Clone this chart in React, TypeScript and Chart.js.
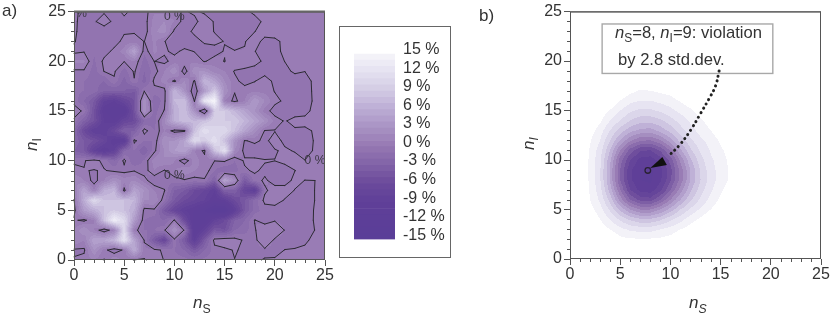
import React, { useEffect, useRef } from "react";
import { Chart, registerables } from "chart.js";

Chart.register(...registerables);

const FONT = '"Liberation Sans", Arial, sans-serif';
const INK = "#333333";

const axisTicks = [0, 5, 10, 15, 20, 25];
const legendTicks = [15, 12, 9, 6, 3, 0, -3, -6, -9, -12, -15];
const legendBands = Array.from({ length: 30 }, (_, i) => -15 + i);

const colourStops: [number, number[]][] = [
  [-15, [90, 62, 152]],
  [-9, [95, 63, 152]],
  [-6, [107, 74, 155]],
  [-3, [128, 98, 167]],
  [0, [150, 120, 178]],
  [3, [168, 146, 195]],
  [6, [187, 172, 212]],
  [9, [210, 202, 227]],
  [12, [228, 225, 240]],
  [15, [246, 245, 250]],
];

// violation in %, rows from n_I = 25 down to 0, columns n_S = 0..25
const violationRows = [
  [.3,-.4,-.6,-.1,-.5,.3,-.4,-.5,.8,.6,.2,-.1,.2,-.2,-.6,-.7,-.6,-.3,.3,.6,.6,.6,.6,.7,.7,.7],
  [.2,-.4,-.1,.4,-.2,-.4,-.5,-.6,1.5,2,1,-.6,-.3,.6,-.1,-.8,-.9,-.8,-.5,.3,.6,.6,.7,.7,.7,.7],
  [.2,-.5,-.8,-.5,-.7,-.15,-.1,-.8,1.8,2.5,-.3,-.6,.3,.5,-.05,-.8,-1,-.9,-.02,.4,.6,.6,.7,.7,.7,.7],
  [.1,-.6,-.8,-.6,-.5,.35,.4,-.02,1.2,.05,-.6,-.8,-.5,.2,.3,-.05,-.9,-.05,.4,-.3,-.3,.3,.6,.7,.7,.7],
  [-.3,-.1,-.8,-.5,.3,1.5,5,-.8,1.3,.2,-.3,.3,-.05,-.7,-.5,.1,.1,.05,.02,-.3,-.4,.3,.6,.7,.7,.7],
  [1.2,1.2,-1.2,.3,.8,.05,1,-1.5,.02,-.3,.5,1,.7,-.1,.5,-.05,1,1,.5,-.3,-.5,.02,.5,.6,.7,.7],
  [-.2,-.2,-1.5,.05,.2,-1.5,.2,-2,-.5,1,3,-1,3,3,1.5,1,-.1,-.4,-.6,-.5,-.8,-.3,.2,.02,.6,.7],
  [-1,-1,-1.5,-2,-.2,-2.5,-.1,-2.5,.3,1.5,-.3,2,-.2,7,5,2,.3,-.4,-.05,.6,-.3,-.6,-.6,-.5,.3,.7],
  [-.8,-1,-1.5,-3,-3,-3,-4,-.02,-.4,-.6,7,3,-1.5,4,9,3,.1,.5,.8,.6,-.05,-.4,-.6,-.6,.3,.7],
  [-.3,-2,-4,-8,-9,-7,-5,3,-2,-.5,7,8,-.1,13,15,1,-.4,1,4,2,.3,-.2,-.5,-.5,.2,.7],
  [.5,-.2,-5,-10,-11,-11,-5,3,-1.5,.1,6,8,3,-3,9,9,7,5,3,.5,-.5,-.6,-.6,-.3,.3,.7],
  [-.2,-3,-5,-9,-10,-7,-6,-2,-1.5,2,6,8,7,8,10,9,9,7,5,3,.5,-.1,.4,.3,.5,.7],
  [-2,-6,-9,-9,-6,-3,-3,.5,-1,1,-.5,-.3,8,12,10,11,8,5,2.5,-.1,-.05,-.4,-.2,-.2,.1,.7],
  [-2,-4,-5,-7,-10,-10,.3,-1,-1,3,3,5,11,9,12,8,3,-.1,.3,-.3,.5,-.3,-.6,-.5,.1,.7],
  [-3,-4,-8,-10,-8,-2,-1,-3,-.3,2,4,5,1,-.3,8,12,2,-.5,-.8,-.8,-.1,.2,-.1,-.3,.1,.7],
  [-.3,-.1,.5,-.4,-2,.3,-2,-.8,1.5,2,1,-1,1.5,.5,.03,.2,-1,.2,.3,.1,.02,.3,.5,.02,.3,.7],
  [.5,.05,-.05,.1,-.3,-.4,-.1,-.6,1,-.1,.8,2,1,.8,-1,-2,-1.5,-.2,.2,-.3,-.8,-.5,-.02,.5,.5,.7],
  [2,1,-.5,1,3,1.5,2,.5,-1,-.8,-.5,-.2,-.5,-.2,-3,5,2,-4,-.5,.2,-.5,-.5,.3,-.02,0,.7],
  [1,5,1,6,7,-.5,5,3,1,.1,-3,-4,-6,-7,-9,-3,-3,-7,-9,-.2,.5,.5,-.05,-.5,.02,.7],
  [-.1,6,11,8,8,8,7,2,2,-.8,-4,-6,-7,-8,-10,-9,-6,-4,-1.5,.3,.5,-.1,-.5,-.6,.02,.7],
  [-.5,4,6,8,9,8,6,-.5,-.3,-4,-7,-9,-10,-12,-14,-14,-9,-4,-1.5,-.5,-.5,-.5,-.5,-.6,.1,.7],
  [.2,-.3,1,8,14,11,4,-1,-1.5,-2,.15,-6,-11,-11,-8,-6,-3,-2,.05,-.5,-.1,-.4,-.5,-.5,.1,.7],
  [1,3,1,-1,1,11,.5,-1,-1,-.2,3,-.2,-11,-8,-4,-5,-2,-1.5,-.1,.8,1,-.05,-.5,-.5,.02,.7],
  [2,1,5,5,7,12,5,-.1,-4,-7,-.4,-4,-9,-4,.5,1,.5,-.2,-.3,1,-.2,-.4,-.5,-.2,.3,.7],
  [-.2,-.2,3,.5,-1,.3,6,.3,.3,-.2,-1,-2,-4,-2,-.5,-.3,.1,-.2,-.3,-.2,-.3,.02,.1,.2,.4,.7],
  [.1,.4,1,-.05,2,.5,-.05,-.05,.2,-.02,-.5,-.6,-1,-.7,-.5,-.3,-.02,-.3,-.1,.05,.1,.3,.5,.6,.7,.7],
];

// density levels, rows from n_I = 17 down to 2, columns n_S = 0..16
const densityTopRow = 17;
const densityRows = [
  [0,0,0,0,0,0,.7,1.1,1,.8,.6,0,0,0,0,0,0],
  [0,0,0,0,0,1,1.7,2,2,1.7,1.4,.9,.3,0,0,0,0],
  [0,0,0,.3,1.1,2,2.8,3.2,3.2,2.8,2.3,1.7,1.2,.5,0,0,0],
  [0,0,0,.8,2,3,4,4.6,4.6,4.2,3.4,2.6,1.8,1.2,.5,0,0],
  [0,0,.5,1.5,3,4.4,5.6,6.2,6.4,5.6,4.6,3.4,2.4,1.6,1,.3,0],
  [0,0,.9,2,4,6,7.8,8.8,9,8,6.4,4.6,3.2,2.2,1.6,.8,0],
  [0,0,1.1,2.5,5,8,10.4,11.8,12,10.8,8.8,6.2,4.2,2.8,1.9,1.2,.5],
  [0,0,1.2,2.8,5.8,9.5,12,13.4,13.6,12.6,10.6,7.8,5.2,3.4,2.2,1.5,.7],
  [0,0,1.2,2.9,6.2,10,12.8,14,14.2,13.4,11.4,8.6,6,3.9,2.4,1.6,.8],
  [0,0,1.2,2.9,6.2,10,12.8,14,14.2,13.2,11.2,8.6,6,4,2.5,1.6,.8],
  [0,0,1.1,2.6,5.5,9,12,13.4,13.6,12.4,10,7.6,5.2,3.5,2.2,1.2,.4],
  [0,0,1,2.2,4.4,7.4,10,11.4,11.6,10,8,6,4.2,2.8,1.7,.8,0],
  [0,0,.6,1.6,3.2,5.2,7,8,8,7,5.6,4,2.8,1.8,1,.3,0],
  [0,0,0,1,2,3.2,4.2,4.8,4.8,4.2,3.2,2.4,1.4,.8,0,0,0],
  [0,0,0,.4,1,1.7,2.2,2.4,2.4,2,1.6,1,.5,0,0,0,0],
  [0,0,0,0,0,.7,.9,.9,.9,.8,.6,0,0,0,0,0,0],
];

const contourLabels = [
  { x: 0.25, y: 24.75, text: "0 %" },
  { x: 10, y: 24.45, text: "0 %" },
  { x: 24, y: 10, text: "0 %" },
  { x: 10, y: 8.5, text: "0 %" },
];

const arrowCurve = [
  { x: 14.85, y: 19 }, { x: 14.5, y: 17.5 }, { x: 13.85, y: 16.2 }, { x: 13, y: 14.7 },
  { x: 12, y: 13 }, { x: 10.9, y: 11.5 }, { x: 9.7, y: 10.3 },
];
const arrowHead = [{ x: 8, y: 9.2 }, { x: 9.2, y: 10.3 }, { x: 9.65, y: 9.5 }];
const violationPoint = [{ x: 7.75, y: 8.95 }];
const noteBox = { x0: 3.2, x1: 20.2, y0: 18.75, y1: 23.75 };

function colourAt(v: number): number[] {
  const c = Math.max(-15, Math.min(15, v));
  for (let i = 1; i < colourStops.length; i++) {
    const [v0, c0] = colourStops[i - 1];
    const [v1, c1] = colourStops[i];
    if (c <= v1) {
      const t = (c - v0) / (v1 - v0);
      return c0.map((a, k) => Math.round(a + (c1[k] - a) * t));
    }
  }
  return colourStops[colourStops.length - 1][1];
}
const css = (c: number[]) => `rgb(${c[0]},${c[1]},${c[2]})`;

const violationAt = (i: number, j: number) => violationRows[25 - j][i];
const densityAt = (i: number, j: number) => {
  const row = densityRows[densityTopRow - j];
  return row && i < row.length ? row[i] : 0;
};

function bilinear(get: (i: number, j: number) => number, x: number, y: number) {
  const i = Math.max(0, Math.min(24, Math.floor(x)));
  const j = Math.max(0, Math.min(24, Math.floor(y)));
  const u = x - i;
  const w = y - j;
  return (
    get(i, j) * (1 - u) * (1 - w) +
    get(i + 1, j) * u * (1 - w) +
    get(i + 1, j + 1) * u * w +
    get(i, j + 1) * (1 - u) * w
  );
}

function paintField(chart: any, get: (i: number, j: number) => number, toColour: (v: number) => number[] | null) {
  const { left, right, top, bottom } = chart.chartArea;
  const x0 = Math.round(left);
  const y0 = Math.round(top);
  const w = Math.round(right) - x0;
  const h = Math.round(bottom) - y0;
  const img = chart.ctx.createImageData(w, h);
  for (let py = 0; py < h; py++) {
    const vy = chart.scales.y.getValueForPixel(y0 + py + 0.5);
    for (let px = 0; px < w; px++) {
      const vx = chart.scales.x.getValueForPixel(x0 + px + 0.5);
      const c = toColour(bilinear(get, vx, vy)) || [255, 255, 255];
      const o = (py * w + px) * 4;
      img.data[o] = c[0];
      img.data[o + 1] = c[1];
      img.data[o + 2] = c[2];
      img.data[o + 3] = 255;
    }
  }
  chart.ctx.putImageData(img, x0, y0);
}

function drawZeroContour(chart: any) {
  const { ctx, scales } = chart;
  const seg = (a: number[], b: number[]) => {
    ctx.moveTo(scales.x.getPixelForValue(a[0]), scales.y.getPixelForValue(a[1]));
    ctx.lineTo(scales.x.getPixelForValue(b[0]), scales.y.getPixelForValue(b[1]));
  };
  ctx.save();
  ctx.strokeStyle = "#2c2a33";
  ctx.lineWidth = 1;
  ctx.lineJoin = "round";
  ctx.lineCap = "round";
  ctx.beginPath();
  for (let i = 0; i < 25; i++) {
    for (let j = 0; j < 25; j++) {
      const a = violationAt(i, j);
      const b = violationAt(i + 1, j);
      const c = violationAt(i + 1, j + 1);
      const d = violationAt(i, j + 1);
      const sa = a >= 0, sb = b >= 0, sc = c >= 0, sd = d >= 0;
      const bottomPt = sa !== sb ? [i + a / (a - b), j] : null;
      const rightPt = sb !== sc ? [i + 1, j + b / (b - c)] : null;
      const topPt = sd !== sc ? [i + d / (d - c), j + 1] : null;
      const leftPt = sa !== sd ? [i, j + a / (a - d)] : null;
      const pts = [bottomPt, rightPt, topPt, leftPt].filter(Boolean) as number[][];
      if (pts.length === 2) seg(pts[0], pts[1]);
      if (pts.length === 4) {
        const centre = (a + b + c + d) / 4 >= 0;
        if (centre === sa) {
          seg(bottomPt!, rightPt!);
          seg(topPt!, leftPt!);
        } else {
          seg(leftPt!, bottomPt!);
          seg(rightPt!, topPt!);
        }
      }
    }
  }
  ctx.stroke();
  const { left, top, width, height } = chart.chartArea;
  ctx.beginPath();
  ctx.rect(left, top, width, height);
  ctx.clip();
  ctx.fillStyle = "#3a3742";
  ctx.font = `12px ${FONT}`;
  ctx.textAlign = "center";
  ctx.textBaseline = "middle";
  for (const l of contourLabels) {
    ctx.fillText(l.text, scales.x.getPixelForValue(l.x), scales.y.getPixelForValue(l.y));
  }
  ctx.restore();
}

function drawFrameAndMinorTicks(chart: any, topWidth: number) {
  const { ctx, scales, chartArea: a } = chart;
  ctx.save();
  ctx.strokeStyle = "#555555";
  ctx.lineWidth = 1;
  ctx.beginPath();
  for (let v = 0; v <= 25; v++) {
    if (v % 5 === 0) continue;
    const px = Math.round(scales.x.getPixelForValue(v)) + 0.5;
    ctx.moveTo(px, a.bottom);
    ctx.lineTo(px, a.bottom + 3);
    const py = Math.round(scales.y.getPixelForValue(v)) + 0.5;
    ctx.moveTo(a.left, py);
    ctx.lineTo(a.left - 3, py);
  }
  ctx.stroke();
  ctx.strokeRect(a.left + 0.5, a.top + 0.5, a.width - 1, a.height - 1);
  ctx.strokeStyle = "#666666";
  ctx.lineWidth = topWidth;
  ctx.beginPath();
  ctx.moveTo(a.left, a.top);
  ctx.lineTo(a.right, a.top);
  ctx.stroke();
  ctx.restore();
}

type Run = { text: string; italic?: boolean; sub?: boolean };

function drawRuns(ctx: any, runs: Run[], x: number, y: number, size: number, subDrop = 5) {
  let cx = x;
  for (const r of runs) {
    const s = r.sub ? size * 0.72 : size;
    ctx.font = `${r.italic ? "italic " : ""}${s}px ${FONT}`;
    ctx.fillText(r.text, cx, r.sub ? y + subDrop : y);
    cx += ctx.measureText(r.text).width;
  }
}

function axisLabels(ctx: any, xRuns: Run[], xAt: number[], yRuns: Run[], yAt: number[]) {
  ctx.save();
  ctx.fillStyle = INK;
  ctx.textAlign = "left";
  ctx.textBaseline = "alphabetic";
  drawRuns(ctx, xRuns, xAt[0], xAt[1], 17);
  ctx.translate(yAt[0], yAt[1]);
  ctx.rotate(-Math.PI / 2);
  drawRuns(ctx, yRuns, 0, 0, 17, 4);
  ctx.restore();
}

function squareScales(yWidth: number, xHeight: number) {
  const common = {
    type: "linear",
    min: 0,
    max: 25,
    border: { display: false },
    grid: {
      drawOnChartArea: false,
      drawTicks: true,
      tickLength: 6,
      tickWidth: 1,
      tickColor: (c: any) => (axisTicks.includes(c.tick?.value) ? "#555555" : "rgba(0,0,0,0)"),
    },
  };
  const ticks = {
    stepSize: 1,
    autoSkip: false,
    maxRotation: 0,
    color: INK,
    font: { family: FONT, size: 16 },
    callback: (v: any) => (axisTicks.includes(Number(v)) ? String(v) : ""),
  };
  return {
    x: { ...common, ticks: { ...ticks, padding: 0 }, afterFit: (s: any) => { s.height = xHeight; } },
    y: { ...common, ticks: { ...ticks, padding: 2 }, afterFit: (s: any) => { s.width = yWidth; } },
  };
}

const baseOptions = {
  responsive: false,
  animation: false,
  plugins: { legend: { display: false }, tooltip: { enabled: false } },
};

function useChart(build: (canvas: HTMLCanvasElement) => any) {
  const ref = useRef<HTMLCanvasElement>(null);
  useEffect(() => {
    const chart = build(ref.current!);
    return () => chart.destroy();
  }, []);
  return ref;
}

function PanelA() {
  const ref = useChart((canvas) =>
    new Chart(canvas, {
      type: "scatter",
      data: {
        datasets: [{
          data: violationRows.flatMap((row, r) => row.map((v, i) => ({ x: i, y: 25 - r, v }))),
          pointRadius: 0,
        }],
      },
      options: {
        ...baseOptions,
        layout: { padding: { top: 9, right: 10, left: 0, bottom: 0 } },
        scales: squareScales(74, 55),
      } as any,
      plugins: [{
        id: "violationField",
        beforeDatasetsDraw(chart: any) {
          paintField(chart, violationAt, (v) => colourAt(Math.floor(v) + 0.5));
        },
        afterDatasetsDraw(chart: any) {
          drawZeroContour(chart);
          drawFrameAndMinorTicks(chart, 2);
          const { ctx } = chart;
          ctx.save();
          ctx.fillStyle = INK;
          ctx.font = `17px ${FONT}`;
          ctx.textBaseline = "alphabetic";
          ctx.fillText("a)", 2, 16);
          ctx.restore();
          axisLabels(ctx,
            [{ text: "n", italic: true }, { text: "S", sub: true }], [193, 308],
            [{ text: "n", italic: true }, { text: "I", sub: true }], [37, 151]);
        },
      }],
    } as any)
  );
  return <canvas ref={ref} width={335} height={315} style={{ position: "absolute", left: 0, top: 0 }} />;
}

function LegendPanel() {
  const ref = useChart((canvas) =>
    new Chart(canvas, {
      type: "bar",
      data: {
        labels: ["%"],
        datasets: legendBands.map((lo) => ({
          data: [[lo, lo + 1]],
          backgroundColor: css(colourAt(lo + 0.5)),
          borderWidth: 0,
          barPercentage: 1,
          categoryPercentage: 1,
          yAxisID: "y",
        })),
      },
      options: {
        ...baseOptions,
        layout: { padding: { top: 23, left: 14, right: 0, bottom: 16 } },
        scales: {
          x: { display: false, stacked: true },
          y: { display: false, min: -15, max: 15.64 },
          y1: {
            position: "right",
            min: -15.69,
            max: 15,
            border: { display: false },
            grid: { display: false, drawTicks: false },
            afterBuildTicks: (s: any) => { s.ticks = legendTicks.map((value) => ({ value })); },
            afterFit: (s: any) => { s.width = 55; },
            ticks: {
              padding: 8,
              color: INK,
              autoSkip: false,
              font: { family: FONT, size: 16 },
              callback: (v: any) => `${v} %`,
            },
          },
        },
      } as any,
    } as any)
  );
  return (
    <div style={{ position: "absolute", left: 339, top: 26, width: 110, height: 230, border: "1px solid #666666" }}>
      <canvas ref={ref} width={110} height={230} style={{ display: "block" }} />
    </div>
  );
}

function PanelB() {
  const ref = useChart((canvas) =>
    new Chart(canvas, {
      type: "scatter",
      data: {
        datasets: [
          {
            data: arrowCurve,
            showLine: true,
            tension: 0.4,
            pointRadius: 0,
            borderColor: "#222222",
            borderWidth: 3,
            borderCapStyle: "round",
            borderDash: [0.1, 5],
          },
          {
            data: violationPoint,
            pointRadius: 2.8,
            pointBackgroundColor: "rgba(0,0,0,0)",
            pointBorderColor: "#2a2233",
            pointBorderWidth: 1.3,
          },
        ],
      },
      options: {
        ...baseOptions,
        layout: { padding: { top: 8, right: 9, left: 0, bottom: 0 } },
        scales: squareScales(100, 56),
      } as any,
      plugins: [{
        id: "densityField",
        beforeDatasetsDraw(chart: any) {
          paintField(chart, densityAt, (v) => (v < 1 ? null : colourAt(14.5 - 2 * (Math.floor(v) - 1))));
          const { ctx, scales } = chart;
          const bx = scales.x.getPixelForValue(noteBox.x0);
          const by = scales.y.getPixelForValue(noteBox.y1);
          const bw = scales.x.getPixelForValue(noteBox.x1) - bx;
          const bh = scales.y.getPixelForValue(noteBox.y0) - by;
          ctx.save();
          ctx.strokeStyle = "#a8a8a8";
          ctx.lineWidth = 1.4;
          ctx.strokeRect(bx, by, bw, bh);
          ctx.restore();
        },
        afterDatasetsDraw(chart: any) {
          const { ctx, scales } = chart;
          ctx.save();
          ctx.fillStyle = "#111111";
          ctx.beginPath();
          arrowHead.forEach((p, i) => {
            const px = scales.x.getPixelForValue(p.x);
            const py = scales.y.getPixelForValue(p.y);
            if (i === 0) ctx.moveTo(px, py);
            else ctx.lineTo(px, py);
          });
          ctx.closePath();
          ctx.fill();
          ctx.fillStyle = INK;
          ctx.textBaseline = "alphabetic";
          drawRuns(ctx, [
            { text: "n", italic: true }, { text: "S", sub: true }, { text: "=8, " },
            { text: "n", italic: true }, { text: "I", sub: true }, { text: "=9: violation" },
          ], 145, 38, 16.6, 4);
          drawRuns(ctx, [{ text: "by 2.8 std.dev." }], 148, 65, 16.6);
          ctx.restore();
          drawFrameAndMinorTicks(chart, 1);
          ctx.save();
          ctx.fillStyle = INK;
          ctx.font = `17px ${FONT}`;
          ctx.textBaseline = "alphabetic";
          ctx.fillText("b)", 9, 21);
          ctx.restore();
          axisLabels(ctx,
            [{ text: "n", italic: true }, { text: "S", italic: true, sub: true }], [219, 308],
            [{ text: "n", italic: true }, { text: "I", italic: true, sub: true }], [64, 150]);
        },
      }],
    } as any)
  );
  return <canvas ref={ref} width={360} height={315} style={{ position: "absolute", left: 470, top: 0 }} />;
}

export default function App() {
  return (
    <div style={{ position: "absolute", left: 0, top: 0, width: 830, height: 315, background: "#ffffff", overflow: "hidden" }}>
      <PanelA />
      <LegendPanel />
      <PanelB />
    </div>
  );
}
